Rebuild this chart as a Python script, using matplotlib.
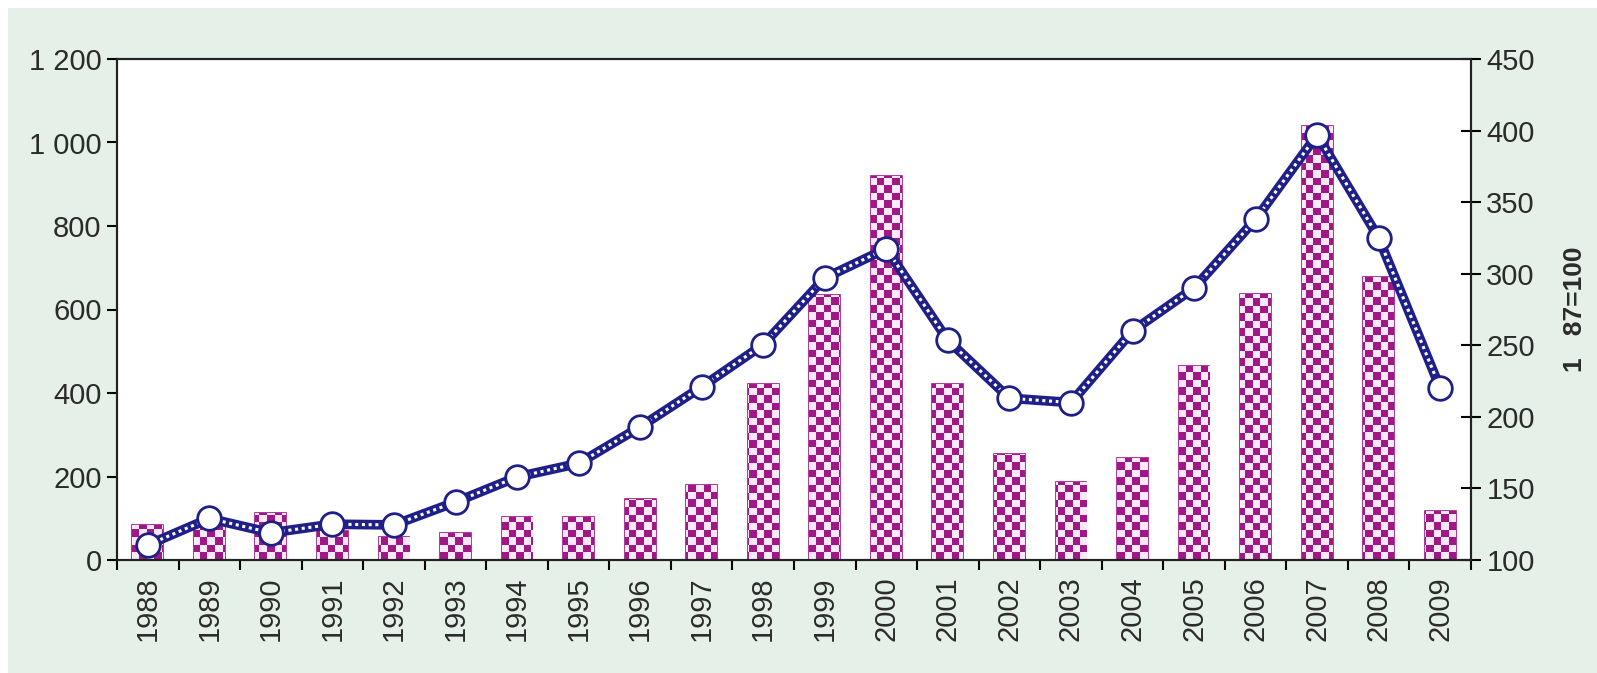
import numpy as np
import matplotlib.pyplot as plt
from matplotlib.patches import Rectangle
from matplotlib.colors import ListedColormap

plt.rcParams['font.family'] = ['Liberation Sans', 'DejaVu Sans']

years = [str(y) for y in range(1988, 2010)]
bar_values = [84, 90, 112, 70, 56, 64, 104, 104, 145, 180, 421, 635,
              920, 421, 255, 188, 245, 465, 637, 1040, 678, 118]
index_values = [110.5, 129, 119, 125, 124.5, 140.5, 158, 167.5, 193, 221, 250.5, 297,
                317.5, 253.5, 213, 210, 260, 290, 338, 397, 325, 220]
left_ticks = [0, 200, 400, 600, 800, 1000, 1200]
left_labels = ['0', '200', '400', '600', '800', '1 000', '1 200']
right_ticks = [100, 150, 200, 250, 300, 350, 400, 450]
right_label = '1   87=100'

bg = '#e5f0e8'
navy = '#1f1f8a'
magenta = '#9f1886'
light = '#fde8f9'
textc = '#2b2b2b'

fig = plt.figure(figsize=(15.97, 6.73), dpi=100)
fig.patch.set_facecolor('white')
fig.patches.append(Rectangle((8 / 1597, 0), 1, 1 - 8 / 673, transform=fig.transFigure,
                             facecolor=bg, edgecolor='none', zorder=-10))

ax = fig.add_axes([117 / 1597, 1 - 560 / 673, 1354 / 1597, 501 / 673])
ax.set_facecolor('white')
x = np.arange(len(years))

bars = ax.bar(x, bar_values, width=0.5, facecolor=light, edgecolor=magenta,
              linewidth=1.2, zorder=2)

# checkerboard fill, clipped to each bar
ncols, nrows = 180, 67
checker = (np.add.outer(np.arange(nrows), np.arange(ncols)) % 2).astype(float)
cmap = ListedColormap([light, magenta])
for b in bars:
    im = ax.imshow(checker, cmap=cmap, interpolation='nearest', aspect='auto',
                   extent=[0, 1, 0, 1], transform=ax.transAxes, zorder=2.5)
    im.set_clip_path(b)

ax.set_xlim(-0.5, len(years) - 0.5)
ax.set_ylim(0, 1200)
ax.set_yticks(left_ticks)
ax.set_yticklabels(left_labels)
ax.set_xticks(x)
ax.set_xticklabels(years, rotation=90)
ax.set_xticks(np.arange(len(years) + 1) - 0.5, minor=True)
ax.tick_params(axis='x', which='major', length=0, pad=12)
ax.tick_params(axis='x', which='minor', length=7, width=1.5, direction='out')
ax.tick_params(axis='y', length=7, width=1.5, direction='out', pad=4)
ax.tick_params(labelsize=21, labelcolor=textc)

ax2 = ax.twinx()
ax2.plot(x, index_values, color=navy, lw=7, zorder=3, solid_capstyle='round')
ax2.plot(x, index_values, color='white', lw=2.2, ls=(0, (1, 1.2)), zorder=4)
ax2.plot(x, index_values, ls='none', marker='o', markersize=17,
         markerfacecolor='white', markeredgecolor=navy, markeredgewidth=2, zorder=5)
ax2.set_ylim(100, 450)
ax2.set_yticks(right_ticks)
ax2.tick_params(axis='y', length=14, width=1.5, direction='inout', labelsize=21,
                labelcolor=textc, pad=4)
ax2.set_ylabel(right_label, fontsize=19, fontweight='bold', color=textc, labelpad=20)

for a in (ax, ax2):
    for s in a.spines.values():
        s.set_linewidth(1.5)
        s.set_color('#222222')

fig.savefig('out.png', dpi=100)
